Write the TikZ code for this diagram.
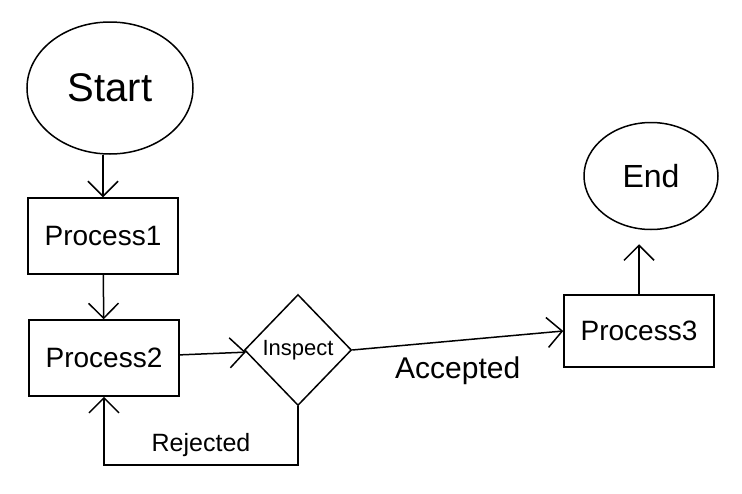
\documentclass[tikz,border=0pt]{standalone}
\usepackage{fontspec}
\setmainfont{Liberation Sans}
\usepackage{tikz}
\usetikzlibrary{positioning}
\usetikzlibrary{arrows.meta,shapes.geometric,calc}

\begin{document}
\begin{tikzpicture}[%
    x=1pt, y=-1pt,
    every node/.style={line width=1.5pt},
    terminal/.style={ellipse,draw},
    procbox/.style={rectangle,draw,minimum width=150pt,minimum height=76pt,
                    font=\fontsize{28}{32}\selectfont},
    decision/.style={diamond,draw,inner sep=0pt,minimum width=107pt,minimum height=111pt,
                     font=\fontsize{22}{26}\selectfont},
    flow/.style={line width=1.5pt,-{Straight Barb[length=15pt,width=30pt,line width=1.5pt]}}
]

\path[fill=white] (0,0) rectangle (742,493);

% ---------------- Nodes ----------------
\node[terminal,minimum width=166pt,minimum height=132pt,
      font=\fontsize{40}{44}\selectfont] (start) at (110,88) {Start};
\node[procbox] (p1) at (103,236) {Process1};
\node[procbox] (p2) at (104,358) {Process2};
\node[decision] (insp) at (298,350) {Inspect};
\node[procbox,minimum height=72pt] (p3) at (639,331) {Process3};
\node[terminal,minimum width=134pt,minimum height=107pt,
      font=\fontsize{32}{36}\selectfont] (end) at (651,176) {End};
\coordinate (back) at (104,465);

% ---------------- Connections ----------------
\draw[flow] (start.south -| p1.north) -- (p1.north);
\draw[flow] (p1) -- (p2);
\draw[flow] (p2) -- (insp);
\draw[flow] (insp.east) -- node[below=12pt,font=\fontsize{30}{34}\selectfont] (acc) {Accepted} (p3.west);
\draw[flow] (insp.south) |- node[pos=0.75,above=4pt,font=\fontsize{25}{29}\selectfont] (rej) {Rejected} (back) -- (p2.south);
\draw[flow,shorten >=14pt] (p3.north) -- (p3.north |- end.south);

\end{tikzpicture}
\end{document}
